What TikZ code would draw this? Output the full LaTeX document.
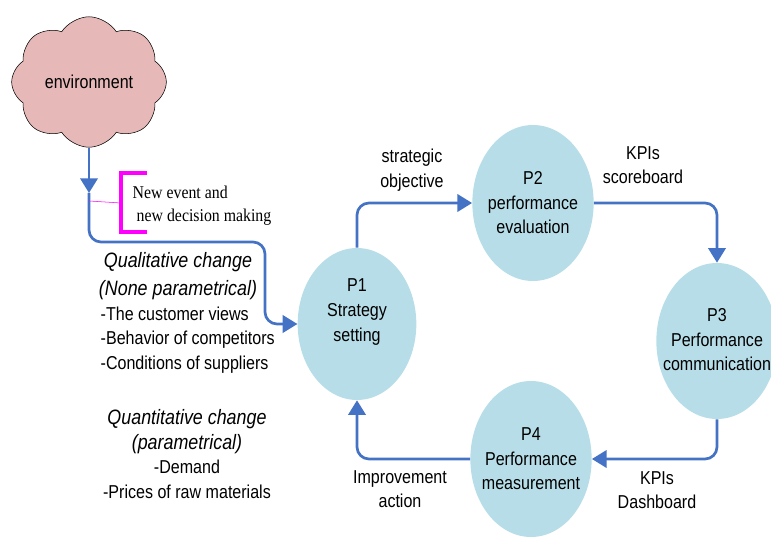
\documentclass[tikz,border=0pt]{standalone}
\usepackage{fontspec}
\setmainfont{Liberation Sans}[FakeStretch=0.86]
\newfontfamily\newsfont{Liberation Serif}[FakeStretch=0.88]
\usetikzlibrary{arrows.meta}
\usetikzlibrary{shapes.symbols,shapes.geometric}

\definecolor{flowblue}{HTML}{4472C4}
\definecolor{procblue}{HTML}{B7DEE8}
\definecolor{cloudpink}{HTML}{E6B9B8}
\definecolor{brackmag}{HTML}{FF00FF}

\newcommand{\chgtitle}{\fontsize{15.6}{18.4}\selectfont\itshape}

\tikzset{
  flow/.style={flowblue, line width=2pt, rounded corners=9pt, -{Triangle[length=11pt,width=13pt]}},
  proc/.style={ellipse, fill=procblue, minimum width=91pt, minimum height=117pt, inner sep=0pt},
  lbl/.style={align=center, font=\fontsize{14}{18.4}\selectfont},
}

\begin{document}
\begin{tikzpicture}[x=0.75pt,y=-0.75pt]
                \useasboundingbox (0,0) rectangle (771,538);

                % environment cloud
                \node[cloud, cloud puffs=8, cloud puff arc=115, aspect=1.25, draw=black, fill=cloudpink,
                      minimum width=116pt, minimum height=96pt, lbl] (env) at (89,82) {environment};

                % the four processes
                \node[proc, minimum width=89pt, minimum height=114pt] (p1) at (357,324) {};
                \node[proc] (p2) at (533,203) {};
                \node[proc] (p3) at (717,341) {};
                \node[proc] (p4) at (531,459) {};
                \node[lbl] (p1text) at (357,312) {P1\\Strategy\\setting};
                \node[lbl] (p2text) at (533,203) {P2\\performance\\evaluation};
                \node[lbl] (p3text) at (717,340) {P3\\Performance\\communication};
                \node[lbl] (p4text) at (531,459) {P4\\Performance\\measurement};

                % loop
                \draw[flow] (p1.north) |- (p2.west);
                \draw[flow] (p2.east) -| (p3.north);
                \draw[flow] (p3.south) |- (p4.east);
                \draw[flow] (p4.west) -| (p1.south);

                \node[lbl] (objlbl) at (412,170) {strategic\\objective};
                \node[lbl] (scorelbl) at (643,165) {KPIs\\scoreboard};
                \node[lbl] (dashlbl) at (657,490) {KPIs\\Dashboard};
                \node[lbl] (improvelbl) at (400,489) {Improvement\\action};

                % from the environment to P1
                \coordinate (envtip) at (89,193);
                \coordinate (bend) at (265,242);
                \draw[flow] (env.south) -- (envtip);
                \draw[flow] (envtip) |- (bend) |- (p1.west);

                % new event bracket
                \coordinate (tick) at (89,201);
                \coordinate (brk) at (121,203);
                \draw[brackmag, thin] (tick) -- (brk);
                \draw[brackmag, line width=3pt] (147,173) -- (121,173) -- (121,232) -- (147,232);
                \node[anchor=west, align=left, font=\newsfont\fontsize{13.5}{17.3}\selectfont] (newevent) at (128,206)
                     {New event and\\\hspace*{3pt}new decision making};

                % kinds of change
                \node[lbl, font=\itshape\fontsize{15.6}{21.5}\selectfont] (qualtitle) at (178,276)
                     {Qualitative change\\(None parametrical)};
                \node[lbl, anchor=west, align=left] (qualitems) at (96,340)
                     {-The customer views\\-Behavior of competitors\\-Conditions of suppliers};
                \node[lbl] (quant) at (187,454)
                     {{\chgtitle Quantitative change}\\{\chgtitle (parametrical)}\\-Demand\\-Prices of raw materials};
\end{tikzpicture}
\end{document}
